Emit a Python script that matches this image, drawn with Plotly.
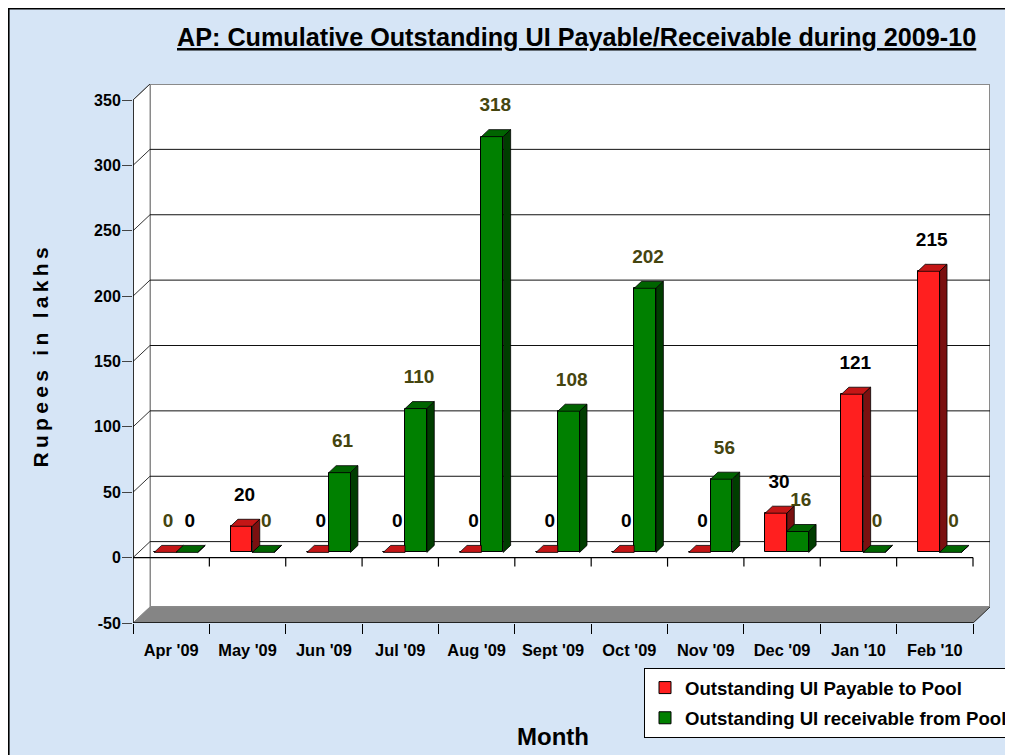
import plotly.graph_objects as go

# ---------------- data ----------------
months = ["Apr '09", "May '09", "Jun '09", "Jul '09", "Aug '09", "Sept '09",
          "Oct '09", "Nov '09", "Dec '09", "Jan '10", "Feb '10"]
payable = [0, 20, 0, 0, 0, 0, 0, 0, 30, 121, 215]          # Outstanding UI Payable to Pool
receivable = [0, 0, 61, 110, 318, 108, 202, 56, 16, 0, 0]  # Outstanding UI receivable from Pool
y_ticks = [-50, 0, 50, 100, 150, 200, 250, 300, 350]

# label colours (as in the original, Apr labels are swapped)
OLIVE = "#45450f"
payable_label_colors = [OLIVE] + ["#000000"] * 10
receivable_label_colors = ["#000000"] + [OLIVE] * 10

# ---------------- geometry (page pixels) ----------------
W_FIG, H_FIG = 1013, 755
OX, OY = 8, 8                 # page offset of the figure (body margin)


def pxx(p):
    return (p - OX) / W_FIG


def pxy(p):
    return 1 - (p - OY) / H_FIG


PX_X0, PX_X1 = 133, 990        # plot area (front-left to back-right)
PX_YTOP, PX_YBOT = 84, 623
PX_350 = 100
CAT_PX = (973 - 133) / len(months)
K = (PX_YBOT - PX_350) / (350 - (-50))      # px per unit
Y0, Y1 = -50, -50 + (PX_YBOT - PX_YTOP) / K
X0 = -0.5
X1 = X0 + (PX_X1 - PX_X0) / CAT_PX
DXU = 17 / CAT_PX        # wall depth in x units
DYU = 16 / K             # wall depth in y units

# bar geometry
S = 4.8 / CAT_PX         # shift of bar pair
BW = 21.8 / CAT_PX       # bar width
BDX = 7.4 / CAT_PX       # bar depth x
BDY = 7.0 / K            # bar depth y
BASE = 5.2 / K           # base lift of the bars (depth position)
LAB_DX = 3 / CAT_PX
LAB_DY = 30 / K

RED, RED_TOP, RED_SIDE = "#ff1f1f", "#c41616", "#7a1010"
GRN, GRN_TOP, GRN_SIDE = "#008000", "#006400", "#003d00"

FONT = "Liberation Sans, Arial, sans-serif"

fig = go.Figure()

idx = list(range(len(months)))

# front faces
fig.add_trace(go.Bar(x=idx, y=payable, base=BASE, offset=S - BW, width=BW,
                     marker=dict(color=RED, line=dict(color="#000000", width=1)),
                     name="Outstanding UI Payable to Pool", legendgroup="a"))
fig.add_trace(go.Bar(x=idx, y=receivable, base=BASE, offset=S, width=BW,
                     marker=dict(color=GRN, line=dict(color="#000000", width=1)),
                     name="Outstanding UI receivable from Pool", legendgroup="b"))


def faces(values, left_offset, neighbour=None):
    tx, ty, sx, sy = [], [], [], []
    for i, v in enumerate(values):
        L = i + left_offset
        R = L + BW
        h = v + BASE
        nb = neighbour[i] if neighbour is not None else 0
        # top face (clipped by the neighbour's front face if it is taller)
        if neighbour is not None and nb > v:
            tx += [L, R, R, L + BDX, L, None]
            ty += [h, h, h + BDY, h + BDY, h, None]
        else:
            tx += [L, R, R + BDX, L + BDX, L, None]
            ty += [h, h, h + BDY, h + BDY, h, None]
        lo = max(0, nb)
        if v > lo or (neighbour is None and v >= 0):
            lo_b = lo + BASE
            sx += [R, R, R + BDX, R + BDX, R, None]
            sy += [lo_b, h, h + BDY, lo_b + BDY, lo_b, None]
    return tx, ty, sx, sy


for vals, off, nb, ctop, cside in [
    (payable, S - BW, receivable, RED_TOP, RED_SIDE),
    (receivable, S, None, GRN_TOP, GRN_SIDE),
]:
    tx, ty, sx, sy = faces(vals, off, nb)
    fig.add_trace(go.Scatter(x=tx, y=ty, mode="lines", fill="toself", fillcolor=ctop,
                             line=dict(color="#000000", width=0.8), showlegend=False,
                             hoverinfo="skip"))
    if sx:
        fig.add_trace(go.Scatter(x=sx, y=sy, mode="lines", fill="toself", fillcolor=cside,
                                 line=dict(color="#000000", width=0.8), showlegend=False,
                                 hoverinfo="skip"))

# value labels
for vals, off, cols in [(payable, S - BW / 2, payable_label_colors),
                        (receivable, S + BW / 2, receivable_label_colors)]:
    fig.add_trace(go.Scatter(
        x=[i + off + LAB_DX for i in idx],
        y=[v + BASE + LAB_DY for v in vals],
        mode="text", text=[str(v) for v in vals],
        textfont=dict(family=FONT, size=19, color=cols, weight="bold"),
        textposition="middle center", showlegend=False, hoverinfo="skip",
        cliponaxis=False))

# ---------------- walls, floor, grid ----------------
shapes = []
BG = "#d6e5f6"
# page background + frame
shapes.append(dict(type="rect", xref="paper", yref="paper", x0=0.6 / W_FIG, x1=1.02,
                   y0=-0.02, y1=1 - 0.6 / H_FIG, fillcolor=BG,
                   line=dict(color="#000000", width=2), layer="below"))
xb0, xb1 = X0 + DXU, X1
# back wall
shapes.append(dict(type="rect", xref="x", yref="y", x0=xb0, x1=xb1, y0=Y0 + DYU, y1=Y1,
                   fillcolor="#ffffff", line=dict(color="#8a8a8a", width=2), layer="below"))
# left side wall
shapes.append(dict(type="path", xref="x", yref="y",
                   path=f"M{X0},{Y0} L{X0},{350} L{xb0},{Y1} L{xb0},{Y0 + DYU} Z",
                   fillcolor="#ffffff", line=dict(color="#8a8a8a", width=1), layer="below"))
# floor
shapes.append(dict(type="path", xref="x", yref="y",
                   path=f"M{X0},{Y0} L{X0 + len(months)},{Y0} L{X1},{Y0 + DYU} L{xb0},{Y0 + DYU} Z",
                   fillcolor="#858585", line=dict(color="#8a8a8a", width=1), layer="below"))
# back gridlines + diagonals
for v in y_ticks[1:]:
    col = "#8a8a8a" if v == 350 else "#111111"
    wid = 2 if v == 350 else 1
    shapes.append(dict(type="line", xref="x", yref="y", x0=xb0, x1=xb1, y0=v + DYU, y1=v + DYU,
                       line=dict(color=col, width=wid), layer="below"))
    shapes.append(dict(type="line", xref="x", yref="y", x0=X0, x1=xb0, y0=v, y1=v + DYU,
                       line=dict(color="#333333", width=1), layer="below"))
# front axis lines
XF1 = X0 + len(months)
shapes.append(dict(type="line", xref="x", yref="y", x0=X0, x1=X0, y0=Y0, y1=350,
                   line=dict(color="#000000", width=1.5), layer="below"))
shapes.append(dict(type="line", xref="x", yref="y", x0=X0, x1=XF1, y0=Y0, y1=Y0,
                   line=dict(color="#000000", width=1.5), layer="below"))
shapes.append(dict(type="line", xref="x", yref="y", x0=XF1, x1=X1, y0=Y0, y1=Y0 + DYU,
                   line=dict(color="#333333", width=1), layer="below"))
shapes.append(dict(type="line", xref="x", yref="y", x0=X0, x1=XF1, y0=0, y1=0,
                   line=dict(color="#000000", width=1.2), layer="below"))
for k in range(1, len(months) + 1):
    shapes.append(dict(type="line", xref="x", yref="y", x0=X0 + k, x1=X0 + k, y0=0, y1=-9 / K,
                       line=dict(color="#000000", width=1.2), layer="below"))

fig.update_layout(shapes=shapes)

# ---------------- axes ----------------
fig.update_layout(
    width=W_FIG, height=H_FIG,
    margin=dict(l=0, r=0, t=0, b=0, autoexpand=False),
    paper_bgcolor="#ffffff", plot_bgcolor="rgba(0,0,0,0)",
    barmode="overlay", bargap=0,
    font=dict(family=FONT, color="#000000"),
    xaxis=dict(domain=[pxx(PX_X0), pxx(PX_X1)], range=[X0, X1],
               tickmode="array", tickvals=idx, ticktext=months,
               ticks="outside", ticklen=12, tickcolor="rgba(0,0,0,0)",
               tickfont=dict(size=16.4, weight="bold", family=FONT),
               minor=dict(ticks="outside", tick0=-0.5, dtick=1, ticklen=10,
                          tickcolor="#000000", tickwidth=1.2, showgrid=False),
               showgrid=False, zeroline=False, showline=False, automargin=False,
               fixedrange=True),
    yaxis=dict(domain=[pxy(PX_YBOT), pxy(PX_YTOP)], range=[Y0, Y1],
               tickmode="array", tickvals=y_ticks, ticktext=[str(t) for t in y_ticks],
               ticks="outside", ticklen=10, tickcolor="#444444", tickwidth=1.2,
               ticklabelstandoff=-2,
               tickfont=dict(size=16, weight="bold", family=FONT),
               showgrid=False, zeroline=False, showline=False, automargin=False,
               fixedrange=True),
    legend=dict(x=pxx(644), y=pxy(668), xanchor="left", yanchor="top",
                bgcolor="#ffffff", bordercolor="#000000", borderwidth=1,
                font=dict(size=18.6, weight="bold", family=FONT),
                traceorder="grouped", tracegroupgap=3),
    annotations=[
        dict(text="<span style='text-decoration:underline'>AP: Cumulative Outstanding UI Payable/Receivable during 2009-10</span>",
             xref="paper", yref="paper", x=pxx(576.5), y=pxy(37),
             xanchor="center", yanchor="middle", showarrow=False,
             font=dict(size=25.2, weight="bold", family=FONT)),
        dict(text="<span style='letter-spacing:4.3px'>Rupees in lakhs</span>",
             xref="paper", yref="paper", x=pxx(40), y=pxy(355.5),
             xanchor="center", yanchor="middle", showarrow=False, textangle=-90,
             font=dict(size=21, weight="bold", family=FONT)),
        dict(text="Month", xref="paper", yref="paper", x=pxx(553), y=pxy(736.7),
             xanchor="center", yanchor="middle", showarrow=False,
             font=dict(size=24, weight="bold", family=FONT)),
    ],
)

fig.write_html("out.html")
